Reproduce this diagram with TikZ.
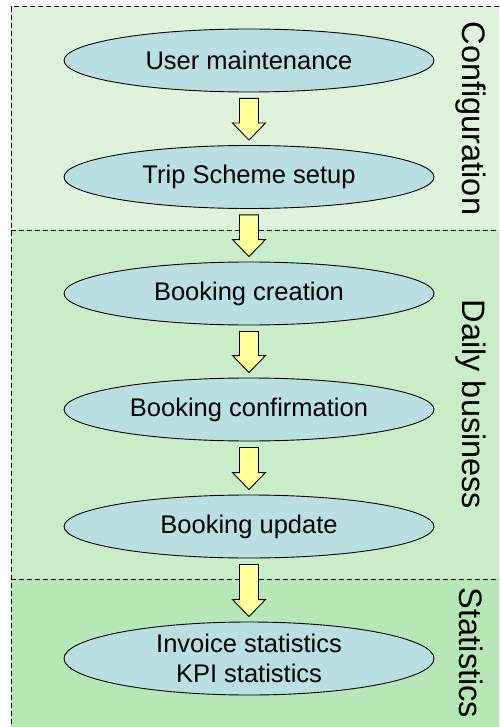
\documentclass[tikz,border=0pt]{standalone}
\usepackage{fontspec}
\setmainfont{Liberation Sans}
\usetikzlibrary{shapes.geometric,calc}
\definecolor{bandA}{HTML}{DFF2DC}
\definecolor{bandB}{HTML}{C9EDC8}
\definecolor{bandC}{HTML}{B6E7B6}
\definecolor{ellfill}{HTML}{B9DFE3}
\definecolor{arrfill}{HTML}{FFFF99}
\tikzset{
  stepell/.style={ellipse, draw=black, line width=0.9pt, fill=ellfill, minimum width=370pt, minimum height=63pt, inner sep=0pt, align=center, font=\fontsize{25.5}{30}\selectfont},
  bandlabel/.style={rotate=-90, font=\fontsize{32.5}{38}\selectfont, inner sep=0pt},
  dashline/.style={draw=black, line width=1pt, dash pattern=on 5pt off 3pt},
  fatarr/.style={draw=black, line width=0.9pt, fill=arrfill, line join=miter}
}
\newcommand{\fatarrow}[2]{%
  \path[fatarr] ($(#1.south)+(-9.5,6)$) -- ($(#1.south)+(9.5,6)$) -- ($(#2.north)+(9.5,-22)$) -- ($(#2.north)+(16.5,-22)$) -- ($(#2.north)+(0,-5)$) -- ($(#2.north)+(-16.5,-22)$) -- ($(#2.north)+(-9.5,-22)$) -- cycle;}
\begin{document}
\begin{tikzpicture}[x=1pt,y=-1pt]
\useasboundingbox (0,0) rectangle (499,727);
\fill[white] (0,0) rectangle (499,727);
\fill[bandA] (11,7) rectangle (499,230);
\fill[bandB] (11,230) rectangle (499,579);
\fill[bandC] (11,579) rectangle (499,727);
\draw[dashline] (499,7) -- (11,7) -- (11,727);
\draw[dashline] (11,230) -- (499,230);
\draw[dashline] (11,579) -- (499,579);
\node[bandlabel] (lconf) at (471,118.5) {Configuration};
\node[bandlabel] (ldaily) at (471,404.5) {Daily business};
\node[bandlabel] (lstat) at (471,653) {Statistics};
\node[stepell] (um) at (249,60.5) {User maintenance};
\node[stepell] (ts) at (249,177) {Trip Scheme setup};
\node[stepell] (bc) at (249,293.5) {Booking creation};
\node[stepell] (bf) at (249,409.5) {Booking confirmation};
\node[stepell] (bu) at (249,526.5) {Booking update};
\node[stepell, minimum height=73pt] (st) at (249,658.5) {Invoice statistics\\KPI statistics};
\fatarrow{um}{ts}
\fatarrow{ts}{bc}
\fatarrow{bc}{bf}
\fatarrow{bf}{bu}
\fatarrow{bu}{st}
\end{tikzpicture}
\end{document}
